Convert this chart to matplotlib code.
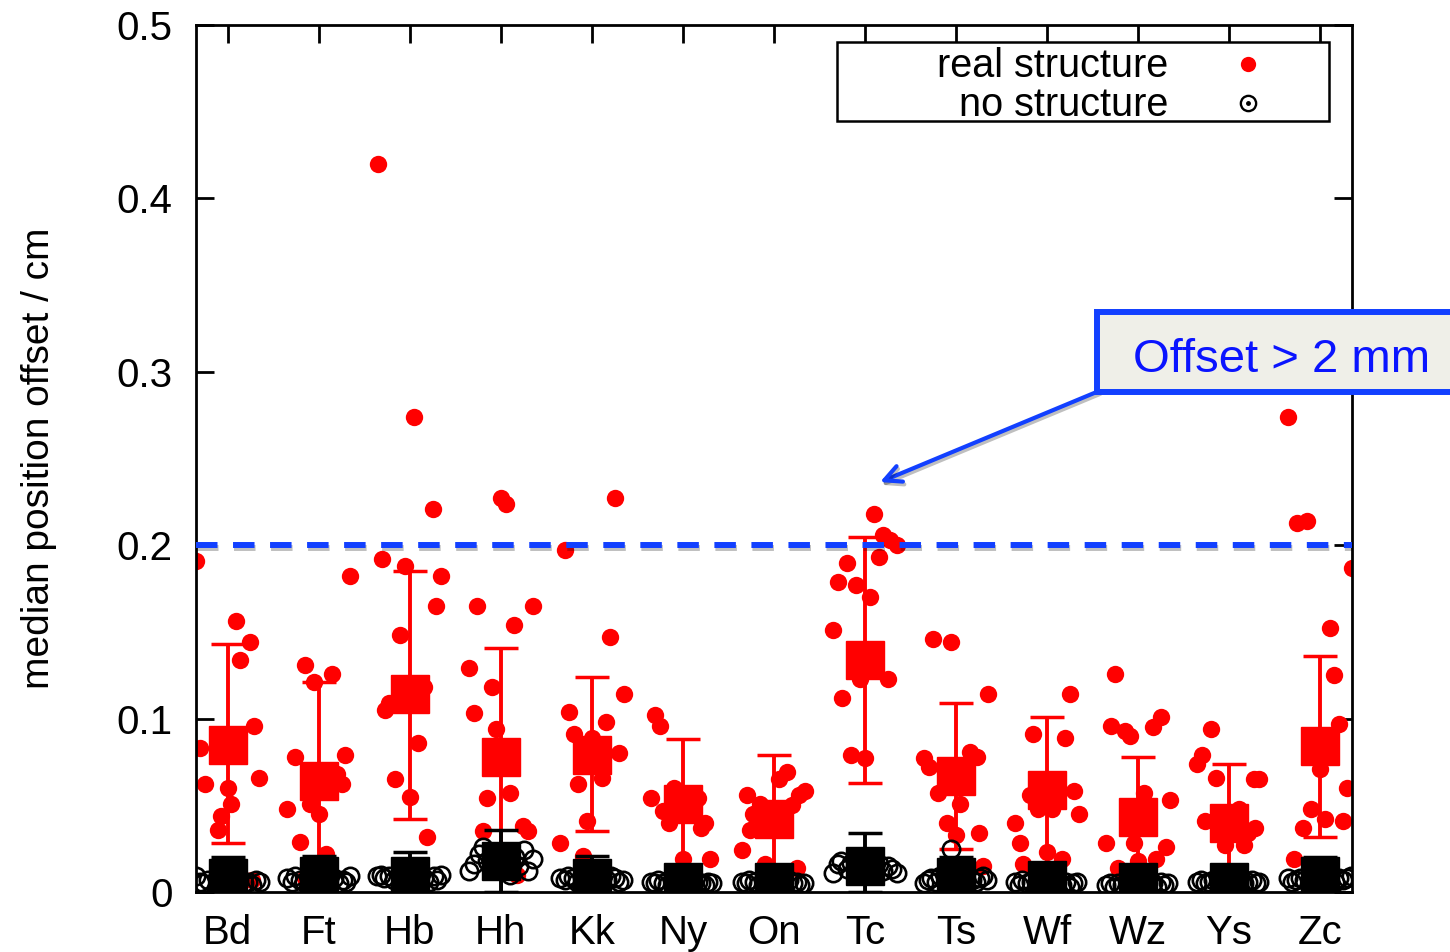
import matplotlib
matplotlib.use("Agg")
import matplotlib.pyplot as plt
import matplotlib.patheffects as pe
from matplotlib.patches import Rectangle
import numpy as np

plt.rcParams['font.family'] = ['Liberation Sans', 'DejaVu Sans']

sites = ['Bd', 'Ft', 'Hb', 'Hh', 'Kk', 'Ny', 'On', 'Tc', 'Ts', 'Wf', 'Wz', 'Ys', 'Zc']

# per-site offsets with a real structure (cm) and their horizontal spread
real_vals = [
    [0.191, 0.156, 0.144, 0.134, 0.096, 0.083, 0.062, 0.066, 0.060, 0.051, 0.044, 0.036, 0.007],
    [0.182, 0.131, 0.126, 0.121, 0.079, 0.078, 0.062, 0.068, 0.048, 0.051, 0.045, 0.029, 0.022, 0.008],
    [0.420, 0.274, 0.221, 0.192, 0.188, 0.182, 0.165, 0.148, 0.118, 0.109, 0.105, 0.086, 0.065, 0.055, 0.032],
    [0.227, 0.224, 0.165, 0.165, 0.154, 0.129, 0.118, 0.103, 0.094, 0.057, 0.054, 0.038, 0.035, 0.035, 0.010],
    [0.227, 0.197, 0.147, 0.114, 0.104, 0.098, 0.091, 0.089, 0.080, 0.066, 0.062, 0.041, 0.028, 0.021],
    [0.102, 0.096, 0.054, 0.060, 0.054, 0.047, 0.040, 0.040, 0.037, 0.019, 0.019],
    [0.056, 0.069, 0.065, 0.058, 0.056, 0.051, 0.050, 0.045, 0.036, 0.024, 0.016, 0.014],
    [0.218, 0.206, 0.200, 0.203, 0.193, 0.190, 0.179, 0.177, 0.170, 0.151, 0.123, 0.123, 0.112, 0.079, 0.077],
    [0.146, 0.144, 0.114, 0.077, 0.072, 0.081, 0.078, 0.057, 0.051, 0.040, 0.033, 0.034, 0.015],
    [0.114, 0.091, 0.089, 0.058, 0.045, 0.056, 0.048, 0.048, 0.040, 0.028, 0.023, 0.019, 0.016],
    [0.126, 0.096, 0.093, 0.090, 0.101, 0.095, 0.053, 0.057, 0.028, 0.028, 0.026, 0.019, 0.018, 0.014],
    [0.094, 0.079, 0.074, 0.066, 0.065, 0.065, 0.041, 0.048, 0.037, 0.027, 0.027, 0.034],
    [0.274, 0.213, 0.214, 0.187, 0.152, 0.125, 0.097, 0.071, 0.060, 0.048, 0.042, 0.037, 0.041, 0.019],
]
real_jit = [
    [-0.35, 0.09, 0.24, 0.13, 0.29, -0.31, -0.25, 0.34, 0.0, 0.04, -0.07, -0.11, 0.26],
    [0.34, -0.15, 0.14, -0.05, 0.29, -0.26, 0.25, 0.2, -0.35, -0.1, 0.0, -0.21, 0.08, -0.15],
    [-0.35, 0.04, 0.25, -0.31, -0.05, 0.34, 0.29, -0.11, 0.16, -0.23, -0.27, 0.09, -0.16, 0.0, 0.19],
    [0.0, 0.06, -0.26, 0.35, 0.14, -0.35, -0.1, -0.3, -0.05, 0.1, -0.15, 0.24, 0.3, -0.2, 0.18],
    [0.25, -0.3, 0.2, 0.35, -0.25, 0.15, -0.2, 0.0, 0.3, 0.11, -0.15, -0.05, -0.35, -0.1],
    [-0.31, -0.25, -0.35, -0.1, 0.17, -0.22, -0.15, 0.24, 0.2, 0.0, 0.3],
    [-0.3, 0.14, 0.05, 0.34, 0.28, -0.15, 0.2, -0.23, -0.26, -0.35, -0.1, 0.25],
    [0.1, 0.2, 0.35, 0.27, 0.15, -0.2, -0.3, -0.1, 0.05, -0.35, -0.05, 0.25, -0.25, -0.15, 0.0],
    [-0.25, -0.05, 0.35, -0.35, -0.3, 0.15, 0.23, -0.2, 0.04, -0.1, 0.0, 0.25, 0.3],
    [0.25, -0.15, 0.2, 0.3, 0.35, -0.19, -0.1, 0.05, -0.35, -0.3, 0.0, 0.16, -0.26],
    [-0.25, -0.3, -0.14, -0.09, 0.25, 0.16, 0.35, 0.06, -0.35, -0.04, 0.31, 0.2, 0.0, -0.22],
    [-0.2, -0.3, -0.35, -0.14, 0.33, 0.27, -0.26, 0.11, 0.28, -0.04, 0.16, 0.21],
    [-0.35, -0.25, -0.14, 0.35, 0.11, 0.15, 0.21, 0.0, 0.3, -0.1, 0.05, -0.19, 0.25, -0.29],
]
real_med = [0.085, 0.064, 0.114, 0.078, 0.079, 0.051, 0.042, 0.134, 0.067, 0.059, 0.043, 0.040, 0.084]
real_hi = [0.143, 0.121, 0.185, 0.141, 0.124, 0.088, 0.079, 0.205, 0.109, 0.101, 0.078, 0.074, 0.136]
real_lo = [0.028, 0.010, 0.042, 0.015, 0.035, 0.010, 0.008, 0.063, 0.025, 0.010, 0.008, 0.008, 0.032]

# offsets without structure
none_vals = [
    [0.009, 0.006, 0.005, 0.007, 0.005, 0.006, 0.004, 0.007, 0.006, 0.008, 0.007],
    [0.008, 0.006, 0.009, 0.007, 0.006, 0.008, 0.005, 0.007, 0.006, 0.009],
    [0.009, 0.010, 0.008, 0.009, 0.007, 0.008, 0.006, 0.009, 0.007, 0.010],
    [0.012, 0.016, 0.022, 0.026, 0.018, 0.020, 0.015, 0.024, 0.012, 0.019, 0.010],
    [0.008, 0.007, 0.009, 0.008, 0.006, 0.007, 0.009, 0.008, 0.006, 0.007],
    [0.006, 0.005, 0.007, 0.005, 0.004, 0.006, 0.005, 0.004, 0.006, 0.005],
    [0.006, 0.005, 0.007, 0.006, 0.004, 0.007, 0.005, 0.006, 0.004, 0.005],
    [0.011, 0.016, 0.018, 0.013, 0.017, 0.016, 0.012, 0.015, 0.013, 0.011],
    [0.005, 0.007, 0.008, 0.006, 0.009, 0.007, 0.006, 0.008, 0.009, 0.007, 0.025],
    [0.006, 0.004, 0.007, 0.005, 0.006, 0.004, 0.006, 0.003, 0.005, 0.006],
    [0.004, 0.005, 0.003, 0.005, 0.004, 0.005, 0.003, 0.006, 0.004, 0.005],
    [0.006, 0.007, 0.005, 0.006, 0.007, 0.005, 0.006, 0.007, 0.005, 0.006],
    [0.008, 0.006, 0.007, 0.008, 0.007, 0.006, 0.008, 0.007, 0.008, 0.009],
]
none_jit = [
    [-0.35, -0.31, -0.27, -0.22, 0.18, 0.22, 0.26, 0.31, 0.35, -0.12, 0.12],
    [-0.35, -0.3, -0.26, -0.21, -0.16, 0.17, 0.22, 0.26, 0.3, 0.34],
    [-0.36, -0.32, -0.28, -0.23, -0.18, 0.16, 0.21, 0.26, 0.3, 0.34],
    [-0.35, -0.3, -0.24, -0.2, -0.15, 0.15, 0.2, 0.25, 0.3, 0.35, 0.1],
    [-0.35, -0.3, -0.26, -0.21, -0.16, 0.16, 0.21, 0.25, 0.3, 0.34],
    [-0.35, -0.31, -0.27, -0.22, -0.18, 0.16, 0.2, 0.24, 0.28, 0.32],
    [-0.35, -0.31, -0.27, -0.22, -0.18, 0.16, 0.21, 0.25, 0.29, 0.33],
    [-0.35, -0.3, -0.26, -0.2, -0.15, 0.15, 0.2, 0.25, 0.3, 0.35],
    [-0.35, -0.31, -0.27, -0.22, -0.18, 0.17, 0.22, 0.26, 0.3, 0.34, -0.05],
    [-0.35, -0.31, -0.27, -0.22, -0.18, 0.16, 0.21, 0.25, 0.29, 0.33],
    [-0.35, -0.31, -0.27, -0.22, -0.18, 0.16, 0.21, 0.25, 0.29, 0.33],
    [-0.35, -0.31, -0.27, -0.22, -0.18, 0.16, 0.21, 0.25, 0.29, 0.33],
    [-0.35, -0.31, -0.27, -0.22, -0.18, 0.16, 0.21, 0.25, 0.29, 0.34],
]
none_med = [0.008, 0.009, 0.009, 0.018, 0.008, 0.006, 0.006, 0.015, 0.0085, 0.007, 0.006, 0.006, 0.009]
none_hi = [0.020, 0.021, 0.023, 0.036, 0.021, 0.010, 0.010, 0.034, 0.020, 0.012, 0.010, 0.010, 0.020]
none_lo = [0.0, 0.0, 0.0, 0.0, 0.0, 0.0, 0.0, 0.0, 0.0, 0.0, 0.0, 0.0, 0.0]

threshold = 0.2

fig = plt.figure(figsize=(14.5, 9.52), dpi=100)
ax = fig.add_axes([196 / 1450, 60 / 952, 1156 / 1450, 867 / 952])

pos = np.arange(1, len(sites) + 1)
red = '#ff0000'
blue = '#1240ff'

for i, p in enumerate(pos):
    ax.plot(p + np.array(real_jit[i]), real_vals[i], 'o', color=red, ms=12.5, mew=0, zorder=2)

ax.errorbar(pos, real_med,
            yerr=[np.array(real_med) - np.array(real_lo), np.array(real_hi) - np.array(real_med)],
            fmt='s', color=red, ms=27, elinewidth=2.8, capsize=12, capthick=2.5, zorder=3)

for i, p in enumerate(pos):
    ax.plot(p + np.array(none_jit[i]), none_vals[i], 'o', mfc='none', mec='black',
            ms=12.5, mew=1.9, zorder=4)

ax.errorbar(pos, none_med,
            yerr=[np.array(none_med) - np.array(none_lo), np.array(none_hi) - np.array(none_med)],
            fmt='s', color='black', ms=27, elinewidth=2.8, capsize=12, capthick=2.5, zorder=5)

# 2 mm threshold
ax.axhline(threshold, color=blue, lw=4.3, dashes=(3.6, 2.6), zorder=6,
           path_effects=[pe.SimpleLineShadow(offset=(0.5, -2), shadow_color='black', alpha=0.25),
                         pe.Normal()])

ax.set_xlim(0.65, 13.35)
ax.set_ylim(0, 0.5)
ax.set_xticks(pos)
ax.set_xticklabels(sites)
ax.set_yticks([0, 0.1, 0.2, 0.3, 0.4, 0.5])
ax.set_yticklabels(['0', '0.1', '0.2', '0.3', '0.4', '0.5'])
ax.tick_params(direction='in', length=13, width=2, top=True, right=True,
               labelsize=29, pad=17)
ax.tick_params(axis='x', pad=16)
for s in ax.spines.values():
    s.set_linewidth(2)
ax.set_ylabel('median position offset / cm', fontsize=28, labelpad=43)

# key box
ax.add_patch(Rectangle((0.5545, 0.889), 0.4256, 0.091, transform=ax.transAxes,
                       fc='white', ec='black', lw=1.8, zorder=8))
ax.text(0.8408, 0.953, 'real structure', transform=ax.transAxes, ha='right', va='center',
        fontsize=28.5, zorder=9)
ax.text(0.8408, 0.908, 'no structure', transform=ax.transAxes, ha='right', va='center',
        fontsize=28.5, zorder=9)
ax.plot([0.910], [0.955], 'o', color=red, ms=11, mew=0, transform=ax.transAxes, zorder=9)
ax.plot([0.910], [0.910], 'o', mfc='none', mec='black', ms=11, mew=1.7,
        transform=ax.transAxes, zorder=9)
ax.plot([0.910], [0.910], 'o', color='black', ms=2.5, transform=ax.transAxes, zorder=9)

# callout
box = Rectangle((1097, 952 - 392), 400, 80, transform=None, fc='#efefe8', ec=blue,
                lw=4.3, zorder=10, clip_on=False)
fig.patches.append(box)
fig.text(1133 / 1450, (952 - 372) / 952, 'Offset > 2 mm', color='#0a14ff', fontsize=34,
         ha='left', va='baseline', zorder=11)
ax.annotate('', xy=(8.165, 0.2364), xycoords='data',
            xytext=(1099, 952 - 391), textcoords='figure pixels',
            arrowprops=dict(arrowstyle='->', color=blue, lw=3, shrinkA=0, shrinkB=0,
                            mutation_scale=30,
                            path_effects=[pe.SimpleLineShadow(offset=(1, -2), alpha=0.25),
                                          pe.Normal()]),
            annotation_clip=False, zorder=9)

fig.savefig('out.png', dpi=100)
